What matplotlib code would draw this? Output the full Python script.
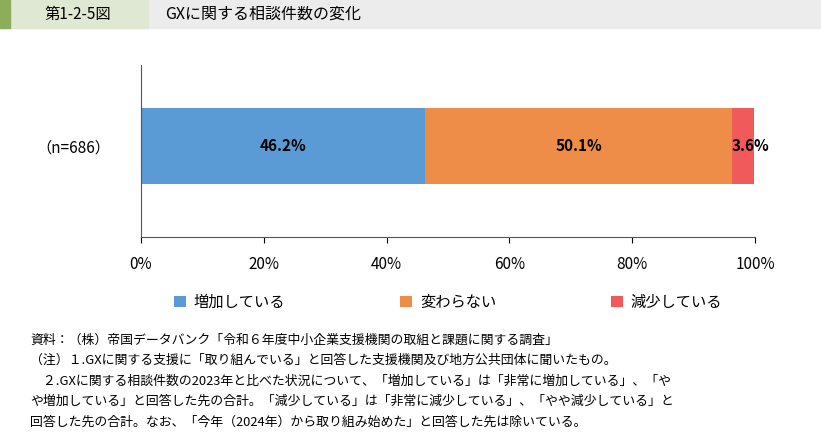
import matplotlib.pyplot as plt
from matplotlib.patches import Rectangle

plt.rcParams['font.family'] = 'Noto Sans CJK JP'

categories = ['増加している', '変わらない', '減少している']
values = [46.2, 50.1, 3.6]
colors = ['#5b9bd5', '#ed8d47', '#f05a5a']
row_label = '（n=686）'
ticks = [0, 20, 40, 60, 80, 100]

W, H = 821, 446
fig = plt.figure(figsize=(W / 100, H / 100), dpi=100)

# ヘッダー
fig.patches.append(Rectangle((0, 1 - 28 / H), 1, 28 / H, transform=fig.transFigure, color='#ececec', zorder=0))
fig.patches.append(Rectangle((0, 1 - 28 / H), 148 / W, 28 / H, transform=fig.transFigure, color='#dfe8d2', zorder=0))
fig.patches.append(Rectangle((0, 1 - 28 / H), 10 / W, 28 / H, transform=fig.transFigure, color='#8cad5a', zorder=0))
fig.text(78 / W, 1 - 14 / H, '第1-2-5図', ha='center', va='center', fontsize=11)
fig.text(165 / W, 1 - 14 / H, 'GXに関する相談件数の変化', ha='left', va='center', fontsize=11.5)

ax = fig.add_axes([141 / W, 1 - 237 / H, 614 / W, 172 / H])
left = 0
for v, c, name in zip(values, colors, categories):
    ax.barh(0, v, left=left, height=0.44, color=c, label=name)
    ax.text(left + v / 2 if v > 10 else left + v - 0.6, 0, f'{v}%', ha='center', va='center',
            fontsize=11, fontweight='bold')
    left += v
ax.set_xlim(0, 100)
ax.set_ylim(-0.53, 0.47)
ax.set_yticks([0])
ax.set_yticklabels([row_label], fontsize=11)
ax.tick_params(axis='y', length=0, pad=22)
ax.set_xticks(ticks)
ax.set_xticklabels([f'{t}%' for t in ticks], fontsize=11)
ax.tick_params(axis='x', length=4, pad=10)
for s in ['top', 'right']:
    ax.spines[s].set_visible(False)
ax.spines['left'].set_color('#555555')
ax.spines['bottom'].set_color('#555555')

ax.legend(loc='upper center', bbox_to_anchor=(0.5, -0.25), ncol=3, frameon=False, fontsize=11,
          handlelength=0.8, handleheight=0.8, columnspacing=7.5, handletextpad=0.5)

notes = [
    '資料：（株）帝国データバンク「令和６年度中小企業支援機関の取組と課題に関する調査」',
    '（注）１.GXに関する支援に「取り組んでいる」と回答した支援機関及び地方公共団体に聞いたもの。',
    '　２.GXに関する相談件数の2023年と比べた状況について、「増加している」は「非常に増加している」、「や',
    'や増加している」と回答した先の合計。「減少している」は「非常に減少している」、「やや減少している」と',
    '回答した先の合計。なお、「今年（2024年）から取り組み始めた」と回答した先は除いている。',
]
for i, n in enumerate(notes):
    fig.text(30 / W, 1 - (340 + i * 20.5) / H, n, ha='left', va='center', fontsize=9.3)

fig.savefig('out.png', dpi=100)
